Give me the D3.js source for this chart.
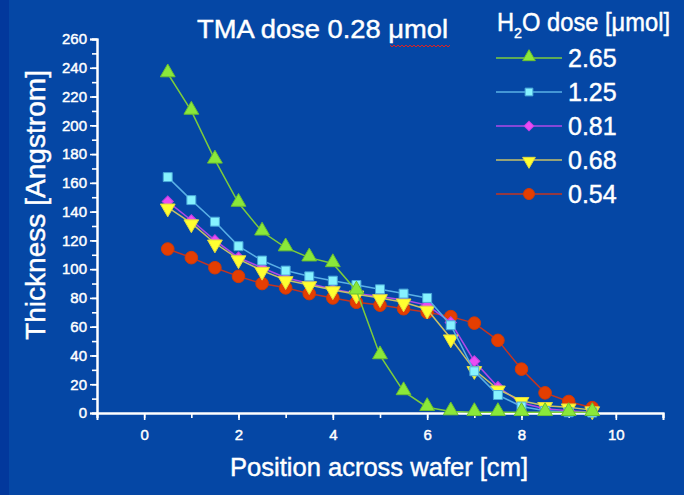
<!DOCTYPE html>
<html>
<head>
<meta charset="utf-8">
<script src="https://cdn.jsdelivr.net/npm/d3@7"></script>
<style>
html,body{margin:0;padding:0;background:#0547A5;}
svg{display:block;}
text{font-family:"Liberation Sans",Arial,sans-serif;fill:#fff;stroke:#fff;stroke-width:0.45px;}
</style>
</head>
<body>
<svg id="chart" width="684" height="495"></svg>
<script>
// ---- data ----
const positions = [0.5,1,1.5,2,2.5,3,3.5,4,4.5,5,5.5,6,6.5,7,7.5,8,8.5,9,9.5];
const seriesNames = ["2.65","1.25","0.81","0.68","0.54"];
const h2o265 = [236,210,176,146,126,115,108,104,85,40,15,4,1,0.5,0.5,0.5,0.5,0.5,0.5];
const h2o125 = [164,148,133,116,106,99,95,92,89,86,83,80,61,29,12.5,4.5,1.5,0.5,0.3];
const h2o081 = [147,134,120,108,101,94,90,86,83,81,78.5,75,63,36,18,7,3,1.5,0.5];
const h2o068 = [143,132,118,107,99,92.5,89,85.5,82.5,80,77,72,52,30,16.5,8.5,5,4,2];
const h2o054 = [114,108,101,95,90,87,83,80,77,75,72.5,70,67,62.5,50.5,30.5,14,8,3.7];
const xTicks = [0,2,4,6,8,10];
const yTicks = [0,20,40,60,80,100,120,140,160,180,200,220,240,260];
const titleText = "TMA dose 0.28 \u03bcmol";
const xLabel = "Position across wafer [cm]";
const yLabel = "Thickness [Angstrom]";

const styles = {
  "2.65": {line:"#7ccc3c", fill:"#8ae83a", stroke:"#6cc030", shape:"triUp"},
  "1.25": {line:"#5ab0e6", fill:"#86f2ff", stroke:"#4aa8d8", shape:"square"},
  "0.81": {line:"#b048e8", fill:"#ea4cf4", stroke:"#c040e0", shape:"diamond"},
  "0.68": {line:"#c8c068", fill:"#ffff30", stroke:"#e0d840", shape:"triDown"},
  "0.54": {line:"#c43420", fill:"#e43e02", stroke:"#d03a08", shape:"circle"}
};
const dataMap = {"2.65":h2o265,"1.25":h2o125,"0.81":h2o081,"0.68":h2o068,"0.54":h2o054};

const svg = d3.select("#chart");
svg.append("rect").attr("x",0).attr("y",0).attr("width",684).attr("height",495).attr("fill","#0547A5");
svg.append("rect").attr("x",0).attr("y",0).attr("width",9).attr("height",495).attr("fill","#02389c");

const x = d3.scaleLinear().domain([-1,11]).range([97,663]);
const y = d3.scaleLinear().domain([0,260]).range([413,39]);

// axes
const axisColor = "#ffffff";
const gx = svg.append("g").attr("transform","translate(0,413)");
gx.call(d3.axisBottom(x).tickValues(d3.range(-1,12,1)).tickSize(5).tickFormat(""));
gx.append("g").call(d3.axisBottom(x).tickValues(xTicks).tickSize(7).tickFormat(d3.format("d")));
gx.selectAll("path.domain").attr("stroke",axisColor).attr("stroke-width",2);
gx.selectAll("line").attr("stroke",axisColor).attr("stroke-width",1.6);
gx.selectAll("text").attr("fill","#fff").style("font-size","15px").attr("dy","1.05em").attr("y",11);

const gy = svg.append("g").attr("transform","translate(97,0)");
gy.call(d3.axisLeft(y).tickValues(d3.range(0,261,10)).tickSize(5).tickFormat(""));
gy.append("g").call(d3.axisLeft(y).tickValues(yTicks).tickSize(7).tickFormat(d3.format("d")));
gy.selectAll("path.domain").attr("stroke",axisColor).attr("stroke-width",2);
gy.selectAll("line").attr("stroke",axisColor).attr("stroke-width",1.6);
gy.selectAll("text").attr("fill","#fff").style("font-size","15px").attr("x",-10);

// series
const order = ["0.54","0.81","0.68","1.25","2.65"];
const line = d3.line().x((d,i)=>x(positions[i])).y(d=>y(d));
function symbolFor(shape){
  if(shape==="triUp") return d3.symbol().type(d3.symbolTriangle).size(95)();
  if(shape==="square") return d3.symbol().type(d3.symbolSquare).size(80)();
  if(shape==="diamond") return d3.symbol().type(d3.symbolSquare).size(62)();
  if(shape==="triDown") return d3.symbol().type(d3.symbolTriangle).size(95)();
  return d3.symbol().type(d3.symbolCircle).size(125)();
}
function transformFor(shape,cx,cy){
  if(shape==="diamond") return `translate(${cx},${cy}) rotate(45)`;
  if(shape==="triDown") return `translate(${cx},${cy+1}) rotate(180)`;
  if(shape==="triUp") return `translate(${cx},${cy-1})`;
  return `translate(${cx},${cy})`;
}
order.forEach(name=>{
  const st = styles[name];
  const vals = dataMap[name];
  const g = svg.append("g");
  g.append("path").datum(vals).attr("d",line).attr("fill","none").attr("stroke",st.line).attr("stroke-width",1.5);
  g.selectAll("path.m").data(vals).enter().append("path").attr("class","m")
    .attr("d",symbolFor(st.shape))
    .attr("transform",(d,i)=>transformFor(st.shape,x(positions[i]),y(d)))
    .attr("fill",st.fill).attr("stroke",st.stroke).attr("stroke-width",1);
});

// title
svg.append("text").attr("x",197).attr("y",38).style("font-size","26px")
  .attr("textLength",251).attr("lengthAdjust","spacingAndGlyphs").text(titleText);
// spell-check squiggle under "μmol"
const sq = [];
for(let i=0;i<=30;i++){ sq.push([390+i*2, 45 + (i%2===0?0:2)]); }
svg.append("path").attr("d",d3.line()(sq)).attr("fill","none").attr("stroke","#e02020").attr("stroke-width",1);

// legend
const lg = svg.append("g");
const lt = lg.append("text").attr("x",497).attr("y",31).style("font-size","25px");
lt.append("tspan").text("H");
lt.append("tspan").attr("dy",7).style("font-size","15px").text("2");
lt.append("tspan").attr("dy",-7).text("O dose [\u03bcmol]");
lt.attr("textLength",173).attr("lengthAdjust","spacingAndGlyphs");
seriesNames.forEach((name,i)=>{
  const st = styles[name];
  const cy = 58 + i*34;
  lg.append("line").attr("x1",496).attr("x2",562).attr("y1",cy).attr("y2",cy).attr("stroke",st.line).attr("stroke-width",1.5);
  const sz = {triUp:70,square:60,diamond:48,triDown:70,circle:95}[st.shape];
  let sym;
  if(st.shape==="triUp"||st.shape==="triDown") sym=d3.symbol().type(d3.symbolTriangle).size(sz)();
  else if(st.shape==="circle") sym=d3.symbol().type(d3.symbolCircle).size(sz)();
  else sym=d3.symbol().type(d3.symbolSquare).size(sz)();
  lg.append("path").attr("d",sym).attr("transform",transformFor(st.shape,529,cy))
    .attr("fill",st.fill).attr("stroke",st.stroke).attr("stroke-width",1);
  lg.append("text").attr("x",568).attr("y",cy+9).style("font-size","25px").text(name);
});

// axis titles
svg.append("text").attr("x",379).attr("y",476).attr("text-anchor","middle").style("font-size","26px")
  .attr("textLength",298).attr("lengthAdjust","spacingAndGlyphs").text(xLabel);
svg.append("text").attr("transform","translate(45,205) rotate(-90)").attr("text-anchor","middle").style("font-size","27px")
  .attr("textLength",270).attr("lengthAdjust","spacingAndGlyphs").text(yLabel);
</script>
</body>
</html>
